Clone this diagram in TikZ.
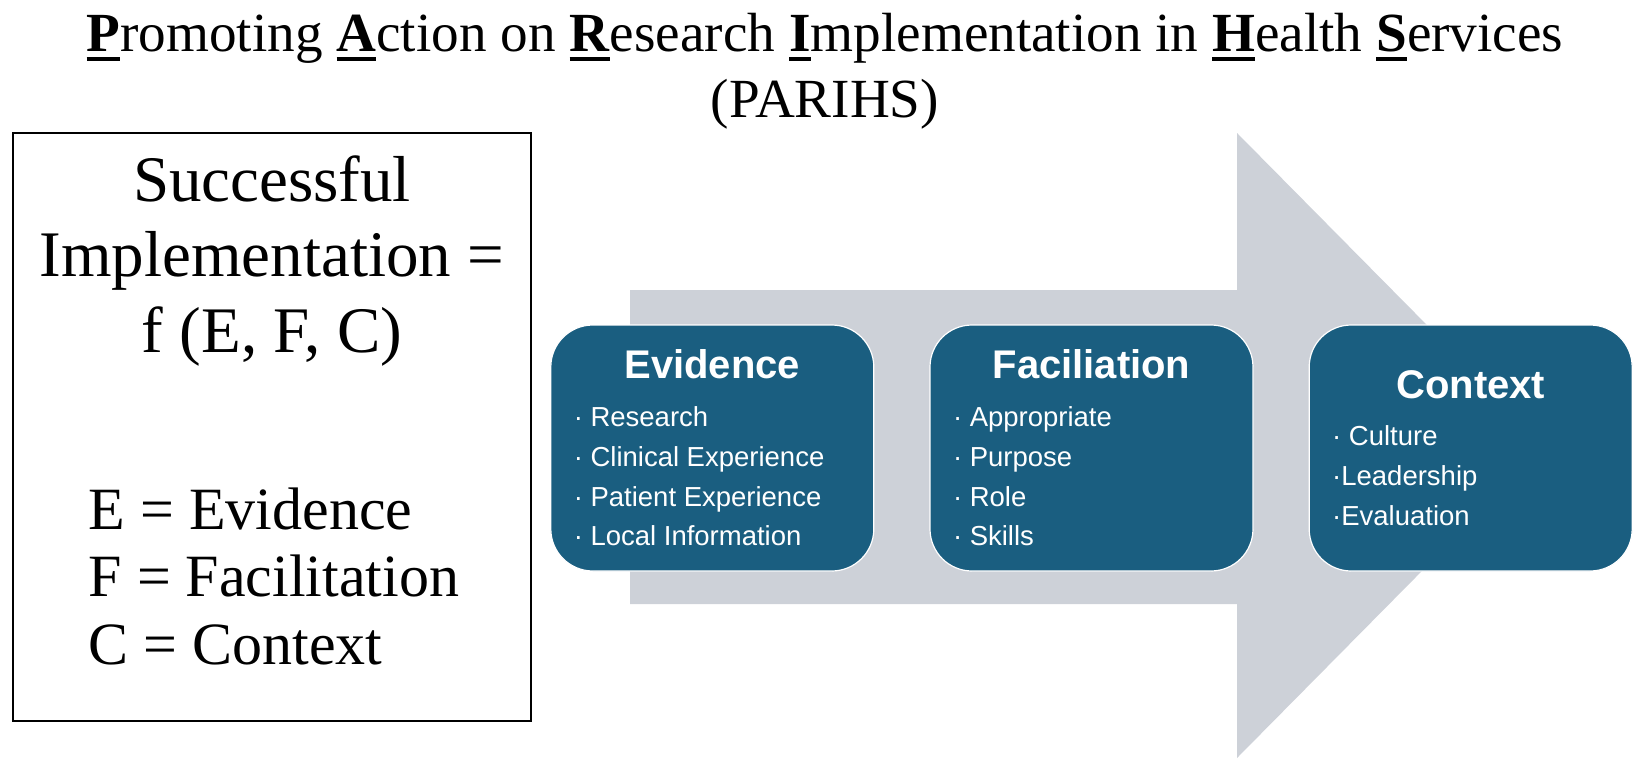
\documentclass[tikz,border=0pt]{standalone}
\usepackage{fontspec}
\setmainfont{Liberation Serif}
\setsansfont{Liberation Sans}
\usepackage{xcolor}
\usepackage{tikz}
\usetikzlibrary{backgrounds,positioning}

\definecolor{stepblue}{RGB}{26,94,128}
\definecolor{arrowgrey}{RGB}{205,209,216}

% bold initial with a heavy underline
\newcommand{\keyletter}[1]{\setbox0\hbox{\textbf{#1}}\rlap{\rule[-9pt]{\wd0}{4pt}}\box0}
% heading of a step box, items follow one per paragraph
\newcommand{\stephead}[1]{{\centering\fontsize{40}{48}\selectfont\bfseries #1\par}\vspace{8pt}\fontsize{27.5}{39.7}\selectfont\spaceskip=7.6pt}

\begin{document}
\begin{tikzpicture}[x=1pt,y=-1pt]
        \tikzstyle{titletext} = [font=\fontsize{55.2}{65}\selectfont,inner sep=0pt]
        \tikzstyle{formulatext} = [font=\fontsize{65}{75}\selectfont,inner sep=0pt]
        \tikzstyle{legendtext} = [font=\fontsize{60}{68}\selectfont,inner sep=0pt,anchor=base west]
        \tikzstyle{stepbox} = [fill=stepblue,draw=white,line width=1.2pt,rounded corners=42pt,text=white,font=\sffamily,text width=277pt,inner xsep=23pt,inner ysep=0pt,minimum height=246pt]
        \useasboundingbox (0,0) rectangle (1633,760);
        %
        % Title.
        \node[titletext,anchor=base] (title) at (825,52) {\keyletter{P}romoting \keyletter{A}ction on \keyletter{R}esearch \keyletter{I}mplementation in \keyletter{H}ealth \keyletter{S}ervices};
        \node[titletext,anchor=base] (acronym) at ([yshift=-65pt]title.base) {(PARIHS)};
        %
        % Formula box.
        \node[draw=black,line width=2pt,minimum width=518pt,minimum height=588pt,inner sep=0pt] (formula) at (272,427) {};
        \node[formulatext,anchor=base] (succ) at (272,201) {Successful};
        \node[formulatext,anchor=base] (impl) at ([yshift=-75.5pt]succ.base) {Implementation =};
        \node[formulatext,anchor=base] (func) at ([yshift=-75.5pt]impl.base) {f (E, F, C)};
        \node[legendtext] (E) at (88.5,529) {E = Evidence};
        \node[legendtext] (F) at ([yshift=-67.5pt]E.base west) {F = Facilitation};
        \node[legendtext] (C) at ([yshift=-67.5pt]F.base west) {C = Context};
        %
        % Three steps.
        \matrix[column sep=55pt, inner sep=0pt] (steps) at (1091.5,448) {
        \node[stepbox] (evidence) {\stephead{Evidence}
            · Research\par · Clinical Experience\par · Patient Experience\par · Local Information\par}; &
        \node[stepbox] (facilitation) {\stephead{Faciliation}
            · Appropriate\par · Purpose\par · Role\par · Skills\par}; &
        \node[stepbox] (context) {\stephead{Context}
            · Culture\par ·Leadership\par ·Evaluation\par}; \\
        };
        \begin{pgfonlayer}{background}
            % Draw big arrow behind the steps.
            \fill[arrowgrey] (630,290) -- (1237,290) -- (1237,133) -- (1546,445.5)
                -- (1237,758) -- (1237,604) -- (630,604) -- cycle;
        \end{pgfonlayer}
        %
\end{tikzpicture}
\end{document}
